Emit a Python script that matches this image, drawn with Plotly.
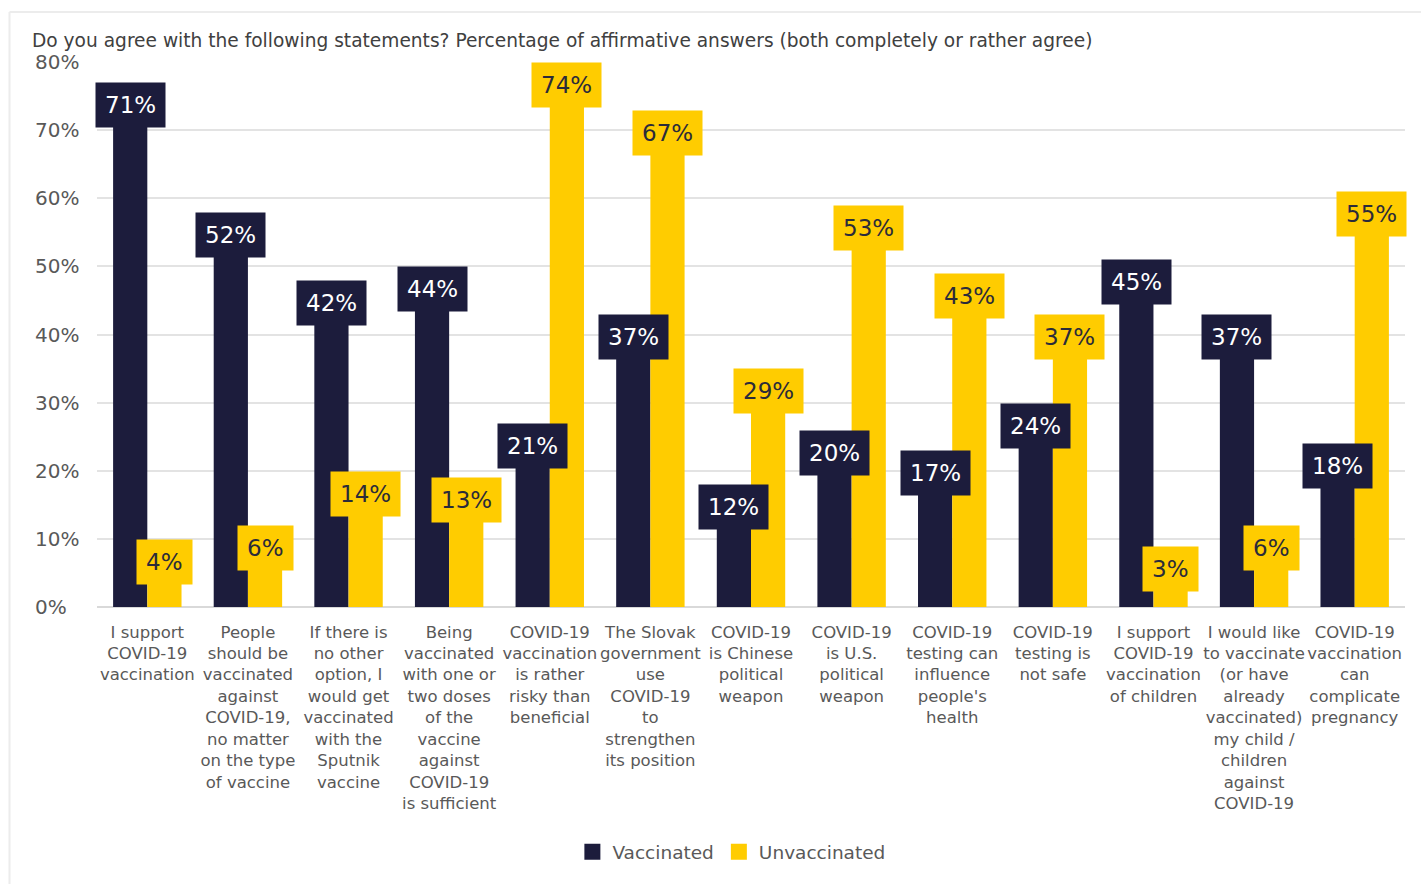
import plotly.graph_objects as go

# Survey statements (category labels, wrapped as shown on the axis)
categories = [
    "I support<br>COVID-19<br>vaccination",
    "People<br>should be<br>vaccinated<br>against<br>COVID-19,<br>no matter<br>on the type<br>of vaccine",
    "If there is<br>no other<br>option, I<br>would get<br>vaccinated<br>with the<br>Sputnik<br>vaccine",
    "Being<br>vaccinated<br>with one or<br>two doses<br>of the<br>vaccine<br>against<br>COVID-19<br>is sufficient",
    "COVID-19<br>vaccination<br>is rather<br>risky than<br>beneficial",
    "The Slovak<br>government<br>use<br>COVID-19<br>to<br>strengthen<br>its position",
    "COVID-19<br>is Chinese<br>political<br>weapon",
    "COVID-19<br>is U.S.<br>political<br>weapon",
    "COVID-19<br>testing can<br>influence<br>people's<br>health",
    "COVID-19<br>testing is<br>not safe",
    "I support<br>COVID-19<br>vaccination<br>of children",
    "I would like<br>to vaccinate<br>(or have<br>already<br>vaccinated)<br>my child /<br>children<br>against<br>COVID-19",
    "COVID-19<br>vaccination<br>can<br>complicate<br>pregnancy",
]

vaccinated = [71, 52, 42, 44, 21, 37, 12, 20, 17, 24, 45, 37, 18]
unvaccinated = [4, 6, 14, 13, 74, 67, 29, 53, 43, 37, 3, 6, 55]

y_ticks = [0, 10, 20, 30, 40, 50, 60, 70, 80]
y_tick_labels = [f"{v}%" for v in y_ticks]

NAVY = "#1c1c3c"
YELLOW = "#ffcc00"
FONT = "DejaVu Sans"
GREY_TEXT = "#595959"

W, H = 1421, 884
ML, MR, MT, MB = 97, 16, 62, 277
plot_w = W - ML - MR
plot_h = H - MT - MB

x = list(range(len(categories)))

fig = go.Figure()
fig.add_trace(go.Bar(x=x, y=vaccinated, name="Vaccinated", marker_color=NAVY,
                     marker_line_width=0, showlegend=False))
fig.add_trace(go.Bar(x=x, y=unvaccinated, name="Unvaccinated", marker_color=YELLOW,
                     marker_line_width=0, showlegend=False))
# legend entries drawn as larger square swatches
fig.add_trace(go.Scatter(x=[None], y=[None], mode="markers", name="Vaccinated",
                         marker=dict(symbol="square", size=18, color=NAVY)))
fig.add_trace(go.Scatter(x=[None], y=[None], mode="markers", name="Unvaccinated",
                         marker=dict(symbol="square", size=18, color=YELLOW)))

annotations = []
# value boxes on top of each bar
half = 0.17
for i, (v, u) in enumerate(zip(vaccinated, unvaccinated)):
    annotations.append(dict(
        x=i - half, y=v, xref="x", yref="y", text=f"{v}%", showarrow=False,
        yanchor="bottom", yshift=-5, bgcolor=NAVY, borderpad=9,
        font=dict(family=FONT, size=23, color="white")))
    annotations.append(dict(
        x=i + half, y=u, xref="x", yref="y", text=f"{u}%", showarrow=False,
        yanchor="bottom", yshift=-5, bgcolor=YELLOW, borderpad=9,
        font=dict(family=FONT, size=23, color="#2b2b3a")))

# left-aligned percentage tick labels
for t, lab in zip(y_ticks, y_tick_labels):
    annotations.append(dict(
        x=(33 - ML) / plot_w, xref="paper", y=t, yref="y", text=lab, showarrow=False,
        xanchor="left", yanchor="middle",
        font=dict(family=FONT, size=20, color=GREY_TEXT)))

frame_top = 1 + (MT - 12) / plot_h
frame_left = (9.5 - ML) / plot_w

fig.update_layout(
    width=W, height=H,
    margin=dict(l=ML, r=MR, t=MT, b=MB),
    paper_bgcolor="white", plot_bgcolor="white",
    barmode="group", bargap=0.32, bargroupgap=0,
    showlegend=True,
    legend=dict(orientation="h", x=0.485, xanchor="center", y=-0.45, yanchor="middle",
                font=dict(family=FONT, size=18.5, color=GREY_TEXT),
                traceorder="normal", itemsizing="trace"),
    title=dict(text="Do you agree with the following statements? Percentage of affirmative answers (both completely or rather agree)",
               x=32 / W, xanchor="left", y=1 - 40 / H, yanchor="middle",
               font=dict(family=FONT, size=18.6, color="#404040")),
    annotations=annotations,
    shapes=[
        dict(type="line", xref="paper", yref="paper", x0=frame_left, x1=(W - ML) / plot_w,
             y0=frame_top, y1=frame_top, line=dict(color="#ececec", width=2)),
        dict(type="line", xref="paper", yref="paper", x0=frame_left, x1=frame_left,
             y0=-MB / plot_h, y1=frame_top, line=dict(color="#ececec", width=2)),
    ],
    font=dict(family=FONT, color=GREY_TEXT),
)

fig.update_xaxes(
    tickmode="array", tickvals=x, ticktext=categories,
    range=[-0.5, 12.5], showgrid=False, ticks="", showline=False, zeroline=False,
    tickfont=dict(family=FONT, size=16.5, color=GREY_TEXT), tickangle=0,
    ticklabelstandoff=13,
)
fig.update_yaxes(
    range=[0, 80], tickvals=y_ticks, showticklabels=False,
    showgrid=True, gridcolor="#e3e3e3", gridwidth=2,
    zeroline=True, zerolinecolor="#d9d9d9", zerolinewidth=2,
)

fig.write_html("out.html")
